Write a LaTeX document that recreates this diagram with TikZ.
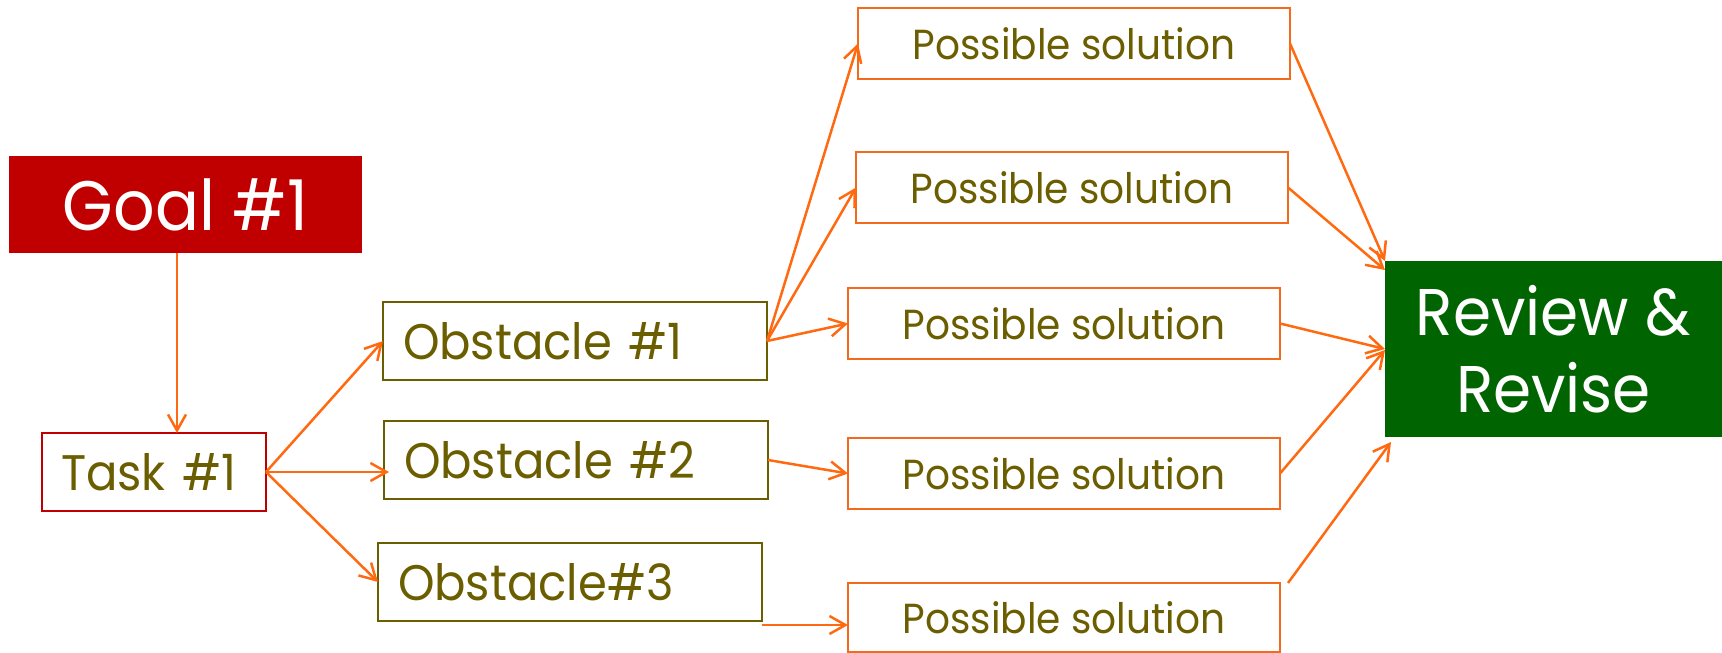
\documentclass[tikz,border=0pt]{standalone}
\usepackage{fontspec}
\setmainfont{Poppins}[FakeStretch=0.93]
\usetikzlibrary{arrows.meta}
\definecolor{goalred}{HTML}{C00000}
\definecolor{revgreen}{HTML}{006400}
\definecolor{txtolive}{HTML}{6B5E00}
\definecolor{arrorange}{HTML}{FF6A10}
\definecolor{boxorange}{HTML}{F46A1C}
\begin{document}
\begin{tikzpicture}[x=1pt,y=-1pt,
  every node/.style={inner sep=0pt, outer sep=0pt},
  filledbox/.style={fill=#1, text=white, align=center},
  taskbox/.style={draw=goalred, line width=1.6pt, text=txtolive, minimum height=78pt,
    text width=186pt, inner xsep=19pt, align=left, font=\fontsize{50}{56}\selectfont},
  obsbox/.style={draw=txtolive, line width=2pt, text=txtolive, minimum height=78pt,
    text width=344pt, inner xsep=20pt, align=left, font=\fontsize{50}{56}\selectfont},
  solbox/.style={draw=boxorange, line width=2pt, text=txtolive, minimum height=71pt,
    minimum width=432pt, align=center, font=\fontsize{42}{46}\selectfont},
  conn/.style={draw=arrorange, line width=2.5pt, -{Straight Barb[length=16pt,width=18pt]}}
]
\useasboundingbox (0,0) rectangle (1722,653);

\node[filledbox=goalred, minimum width=353pt, minimum height=97pt,
  font=\fontsize{70}{72}\selectfont] (goal) at (185.5,204.5) {Goal \#1};
\node[taskbox] (task) at (154,472) {\mbox{Task \#1}};
\node[obsbox] (obs1) at (575,341) {\mbox{Obstacle \#1}};
\node[obsbox] (obs2) at (576,460) {\mbox{Obstacle \#2}};
\node[obsbox] (obs3) at (570,582) {\mbox{Obstacle\#3}};

\node[solbox] (ps1) at (1074,43.5) {Possible solution};
\node[solbox] (ps2) at (1072,187.5) {Possible solution};
\node[solbox] (ps3) at (1064,323.5) {Possible solution};
\node[solbox] (ps4) at (1064,473.5) {Possible solution};
\node[solbox, minimum height=69pt] (ps5) at (1064,617.5) {Possible solution};

\node[filledbox=revgreen, minimum width=337pt, minimum height=176pt,
  font=\fontsize{66}{77}\selectfont] (rev) at (1553.5,349) {Review \&\\Revise};

\coordinate (gstart) at ([xshift=-8.5pt]goal.south);
\draw[conn] (gstart) -- (gstart |- task.north);
\draw[conn] (task.east) -- (obs1.west);
\draw[conn] (task.east) -- ([xshift=5pt]obs2.west |- task.east);
\draw[conn] (task.east) -- (obs3.west);

\draw[conn] (obs1.east) -- (ps1.west);
\draw[conn] (obs1.east) -- (ps2.west);
\draw[conn] (obs1.east) -- (ps3.west);
\draw[conn] (obs2.east) -- (ps4.west);
\draw[conn] ([yshift=-4pt]obs3.south east) -- ([yshift=-4pt]obs3.south east -| ps5.west);

\draw[conn] (ps1.east) -- (rev.north west);
\draw[conn] (ps2.east) -- ([yshift=-9pt]rev.north west);
\draw[conn] (ps3.east) -- (rev.west);
\draw[conn] (ps4.east) -- ([yshift=-1pt]rev.west);
\draw[conn] ([xshift=8pt]ps5.north east) -- ([xshift=6pt,yshift=-5pt]rev.south west);
\end{tikzpicture}
\end{document}
